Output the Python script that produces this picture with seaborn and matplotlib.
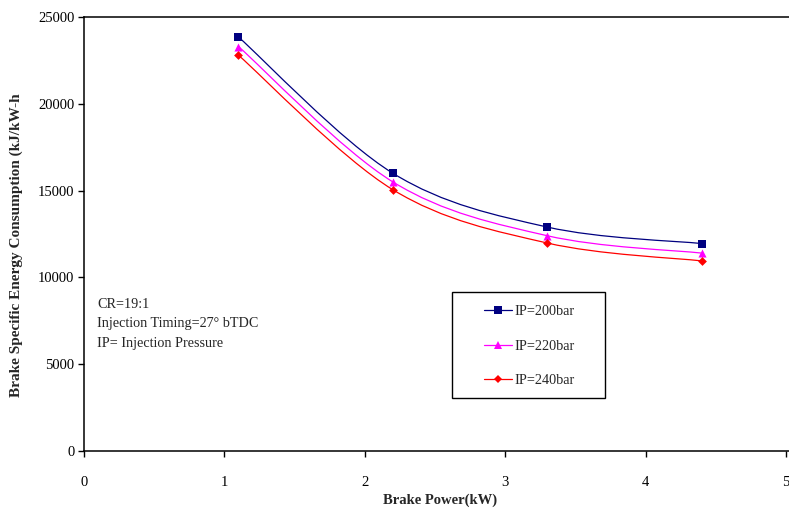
import numpy as np
import pandas as pd
import matplotlib
matplotlib.use("Agg")
import matplotlib.pyplot as plt
from matplotlib.path import Path
from matplotlib.patches import PathPatch, Rectangle
from matplotlib.lines import Line2D
import seaborn as sns

# ---- data ----
brake_power = [1.1, 2.2, 3.3, 4.4]
ip200 = [23850, 16000, 12900, 11950]
ip220 = [23300, 15500, 12400, 11400]
ip240 = [22800, 15050, 11980, 10950]
series_names = ["IP=200bar", "IP=220bar", "IP=240bar"]
x_ticks = [0, 1, 2, 3, 4, 5]
y_ticks = [0, 5000, 10000, 15000, 20000, 25000]
note_lines = ["CR=19:1", "Injection Timing=27\u00b0 bTDC", "IP= Injection Pressure"]

colors = {"IP=200bar": "#000080", "IP=220bar": "#FF00FF", "IP=240bar": "#FF0000"}
markers = {"IP=200bar": "s", "IP=220bar": "^", "IP=240bar": "D"}
msizes = {"IP=200bar": 30, "IP=220bar": 34, "IP=240bar": 20}

df = pd.DataFrame({
    "x": brake_power * 3,
    "y": ip200 + ip220 + ip240,
    "series": sum([[n] * len(brake_power) for n in series_names], []),
})

sns.set_style("white")
plt.rcParams["font.family"] = ["Liberation Serif", "DejaVu Serif"]
plt.rcParams["mathtext.fontset"] = "stix"

fig = plt.figure(figsize=(7.89, 5.08), dpi=100)
ax = fig.add_axes([84 / 789, 1 - 451 / 508, 1 - 84 / 789, (451 - 17) / 508])


def smooth_path(xs, ys):
    pts = np.column_stack([xs, ys]).astype(float)
    n = len(pts)
    verts = [pts[0]]
    codes = [Path.MOVETO]
    for i in range(n - 1):
        p0 = pts[i - 1] if i > 0 else pts[i]
        p1 = pts[i]
        p2 = pts[i + 1]
        p3 = pts[i + 2] if i + 2 < n else pts[i + 1]
        c1 = p1 + (p2 - p0) / 6.0
        c2 = p2 - (p3 - p1) / 6.0
        verts += [c1, c2, p2]
        codes += [Path.CURVE4] * 3
    return Path(verts, codes)


for name, ys in zip(series_names, [ip200, ip220, ip240]):
    patch = PathPatch(smooth_path(brake_power, ys), facecolor="none",
                      edgecolor=colors[name], lw=0.9, zorder=2)
    ax.add_patch(patch)

for name in series_names:
    sub = df[df["series"] == name]
    sns.scatterplot(data=sub, x="x", y="y", color=colors[name],
                    marker=markers[name], s=msizes[name], linewidth=0,
                    ax=ax, zorder=3, legend=False)

ax.set_xlim(0, 5 * (789 - 84) / (786 - 84))
ax.set_ylim(0, 25000)
ax.set_xticks(x_ticks)
ax.set_yticks(y_ticks)
ax.set_xticklabels([str(t) for t in x_ticks])
ax.set_yticklabels([str(t) for t in y_ticks])
ax.set_xlabel("")
ax.set_ylabel("")
for s in ["left", "bottom", "top"]:
    ax.spines[s].set_visible(True)
    ax.spines[s].set_color("black")
    ax.spines[s].set_linewidth(1.1)
ax.spines["right"].set_visible(False)
ax.tick_params(axis="both", which="major", direction="out", length=4,
               width=1, color="black", labelsize=10.5, labelcolor="black")
ax.tick_params(axis="x", pad=14)
ax.tick_params(axis="y", pad=3)
ax.xaxis.set_ticks_position("bottom")
ax.yaxis.set_ticks_position("left")

fig.text(440 / 789, 1 - 500 / 508, "Brake Power(kW)", ha="center", va="center",
         fontsize=10.5, fontweight="bold")
fig.text(16 / 789, 1 - 245 / 508, "Brake Specific Energy Consumption (kJ/kW-h",
         rotation=90, ha="center", va="center", fontsize=11, fontweight="bold")

for i, line in enumerate(note_lines):
    fig.text(97 / 789, 1 - (304 + 20 * i) / 508, line, ha="left", va="center",
             fontsize=10.2)

# legend box
fig.patches.append(Rectangle((452 / 789, 1 - 398 / 508), (605 - 452) / 789,
                             (398 - 292) / 508, transform=fig.transFigure,
                             facecolor="white", edgecolor="black", lw=1.0,
                             zorder=5))
handles = [Line2D([0], [0], color=colors[n], marker=markers[n], lw=0.9,
                  markersize={"IP=200bar": 5.5, "IP=220bar": 6, "IP=240bar": 4.5}[n],
                  markeredgewidth=0)
           for n in series_names]
leg = fig.legend(handles, series_names, loc="upper left",
                 bbox_to_anchor=(473 / 789, 1 - 294 / 508), frameon=False,
                 fontsize=10.3, handlelength=1.95, handletextpad=0.15,
                 labelspacing=1.5, borderpad=0.3)
leg.set_zorder(6)

fig.savefig("out.png", dpi=100)
